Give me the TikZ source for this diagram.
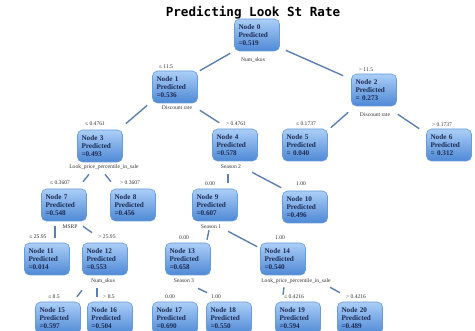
\documentclass[tikz,border=0pt]{standalone}
\usepackage{fontspec}
\setmainfont{Liberation Serif}
\newfontfamily\titlefont{DejaVu Sans Mono}
\usetikzlibrary{calc}

\definecolor{nodetop}{HTML}{ABCEF7}
\definecolor{nodebot}{HTML}{4F89D6}
\definecolor{nodeedge}{HTML}{6B9BD6}
\definecolor{nodetext}{HTML}{1C2B52}
\definecolor{linkblue}{HTML}{5D7FAD}
\definecolor{labgray}{HTML}{333333}

\tikzset{
  tnode/.style={rectangle, rounded corners=5pt, draw=nodeedge, line width=0.6pt,
    top color=nodetop, bottom color=nodebot, minimum height=32pt,
    text width=37pt, inner xsep=4pt, align=left, text=nodetext,
    font=\bfseries\fontsize{7.2}{8}\selectfont},
  lab/.style={inner sep=0pt, text=labgray, font=\fontsize{5.6}{6}\selectfont},
  edge/.style={draw=linkblue, line width=1.4pt}
}

\begin{document}
\begin{tikzpicture}[x=1pt, y=-1pt]
    \useasboundingbox (0,0) rectangle (475,331);
    \clip (0,0) rectangle (475,331);

    % Title
    \node (title) at (253,13) {\titlefont\bfseries\fontsize{12.6}{13}\selectfont Predicting Look St Rate};

    % Tree nodes
    \node[tnode] (n0) at (257,35) {Node 0\\Predicted\\=0.519};
    \node[tnode] (n1) at (175,87) {Node 1\\Predicted\\=0.536};
    \node[tnode] (n2) at (374,90) {Node 2\\Predicted\\= 0.273};
    \node[tnode] (n3) at (100,146) {Node 3\\Predicted\\=0.493};
    \node[tnode] (n4) at (235,145) {Node 4\\Predicted\\=0.578};
    \node[tnode] (n5) at (305,145) {Node 5\\Predicted\\= 0.040};
    \node[tnode] (n6) at (449,145) {Node 6\\Predicted\\= 0.312};
    \node[tnode] (n7) at (64,205) {Node 7\\Predicted\\=0.548};
    \node[tnode] (n8) at (133,205) {Node 8\\Predicted\\=0.456};
    \node[tnode] (n9) at (215,205) {Node 9\\Predicted\\=0.607};
    \node[tnode] (n10) at (305,207) {Node 10\\Predicted\\=0.496};
    \node[tnode] (n11) at (47,259) {Node 11\\Predicted\\=0.014};
    \node[tnode] (n12) at (105,259) {Node 12\\Predicted\\=0.553};
    \node[tnode] (n13) at (188,259) {Node 13\\Predicted\\=0.658};
    \node[tnode] (n14) at (283,259) {Node 14\\Predicted\\=0.540};
    \node[tnode] (n15) at (58,318) {Node 15\\Predicted\\=0.597};
    \node[tnode] (n16) at (110,318) {Node 16\\Predicted\\=0.504};
    \node[tnode] (n17) at (175,318) {Node 17\\Predicted\\=0.690};
    \node[tnode] (n18) at (229,318) {Node 18\\Predicted\\=0.550};
    \node[tnode] (n19) at (298,318) {Node 19\\Predicted\\=0.594};
    \node[tnode] (n20) at (360,318) {Node 20\\Predicted\\=0.489};

    % Split variables
    \node[lab] (s0) at (253,60) {Num\_skus};
    \node[lab] (s1) at (177,108) {Discount rate};
    \node[lab] (s2) at (375,115) {Discount rate};
    \node[lab] (s3) at (104,167) {Look\_price\_percentile\_in\_sale};
    \node[lab] (s4) at (231,167) {Season 2};
    \node[lab] (s7) at (70,227) {MSRP};
    \node[lab] (s9) at (211,227) {Season 1};
    \node[lab] (s12) at (103,281) {Num\_skus};
    \node[lab] (s13) at (184,281) {Season 3};
    \node[lab] (s14) at (296,281) {Look\_price\_percentile\_in\_sale};

    % Split conditions
    \node[lab] (c1) at (166,67) {≤ 11.5};
    \node[lab] (c2) at (366,70) {> 11.5};
    \node[lab] (c3) at (95,124) {≤ 0.4761};
    \node[lab] (c4) at (236,124) {> 0.4761};
    \node[lab] (c5) at (306,124) {≤ 0.1737};
    \node[lab] (c6) at (442,125) {> 0.1737};
    \node[lab] (c7) at (60,183) {≤ 0.3607};
    \node[lab] (c8) at (130,183) {> 0.3607};
    \node[lab] (c9) at (210,184) {0.00};
    \node[lab] (c10) at (301,184) {1.00};
    \node[lab] (c11) at (38,237) {≤ 25.95};
    \node[lab] (c12) at (107,237) {> 25.95};
    \node[lab] (c13) at (184,238) {0.00};
    \node[lab] (c14) at (280,238) {1.00};
    \node[lab] (c15) at (54,297) {≤ 8.5};
    \node[lab] (c16) at (109,297) {> 8.5};
    \node[lab] (c17) at (170,297) {0.00};
    \node[lab] (c18) at (216,297) {1.00};
    \node[lab] (c19) at (294,297) {≤ 0.4216};
    \node[lab] (c20) at (356,297) {> 0.4216};

    % Branches
    \draw[edge] ($(n0.south west)+(-4,2)$) -- ($(n1.north east)+(2,0)$);
    \draw[edge] ($(n0.south east)+(6,-1)$) -- ($(n2.north west)+(-8,2)$);
    \draw[edge] ($(n1.south west)+(-5,2)$) -- ($(n3.north east)+(3,-6)$);
    \draw[edge] ($(n1.south east)+(2,7)$) -- ($(n4.north west)+(7,-6)$);
    \draw[edge] ($(n2.south west)+(-3,6)$) -- ($(n5.north east)+(3,-1)$);
    \draw[edge] ($(n2.south east)+(1,8)$) -- ($(n6.north west)+(-7,0)$);
    \draw[edge] ($(n3.south)+(-11,12)$) -- ($(n7.north)+(19,-7)$);
    \draw[edge] ($(n3.south)+(5,12)$) -- ($(n8.north)+(-22,-7)$);
    \draw[edge] ($(n4.south)+(-7,13)$) -- ($(n9.north)+(13,-6)$);
    \draw[edge] ($(n4.south)+(17,11)$) -- ($(n10.north west)+(-1,-3)$);
    \draw[edge] ($(n7.south)+(-9,5)$) -- ($(n11.north)+(8,-5)$);
    \draw[edge] ($(n7.south)+(19,5)$) -- ($(n12.north)+(-13,-10)$);
    \draw[edge] ($(n9.south)+(-6,9)$) -- ($(n13.north)+(19,-3)$);
    \draw[edge] ($(n9.south)+(13,10)$) -- ($(n14.north west)+(-3,4)$);
    \draw[edge] ($(n12.south)+(-23,15)$) -- ($(n15.north)+(19,-5)$);
    \draw[edge] ($(n12.south)+(-8,13)$) -- ($(n16.north)+(-13,-5)$);
    \draw[edge] ($(n13.south)+(10,13)$) -- ($(n18.north)+(-22,-9)$);
    \draw[edge] ($(n14.south)+(1,12)$) -- ($(n19.north)+(-15,-7)$);
    \draw[edge] ($(n14.south)+(47,12)$) -- ($(n20.north)+(-20,-9)$);

\end{tikzpicture}
\end{document}
